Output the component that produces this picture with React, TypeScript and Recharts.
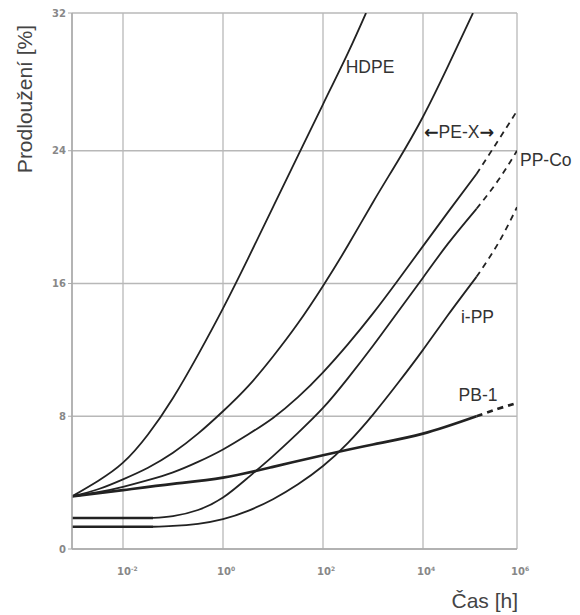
import React from 'react';
import { LineChart, Line, XAxis, YAxis, CartesianGrid, ReferenceDot, Label } from 'recharts';

// x values are log10(time in hours); y values are elongation in %
const X_MIN = -3.02;
const X_MAX = 5.88;
const Y_MAX = 32.3;
const xTicks = [-2, 0, 2, 4, 5.88];
const yTicks = [0, 8, 16, 24, 32.3];

const hdpeX = [-3.02, -2.5, -2, -1.5, -1, -0.5, 0, 0.5, 1, 1.5, 2, 2.5, 2.86];
const hdpeY = [3.17, 4.1, 5.2, 6.9, 9.1, 11.7, 14.5, 17.5, 20.6, 23.7, 26.8, 29.9, 32.3];

const pexAX = [-3.02, -2.5, -2, -1.5, -1, -0.5, 0, 0.5, 1, 1.5, 2, 2.5, 3, 3.5, 4, 4.5, 5.0];
const pexAY = [3.17, 3.6, 4.2, 4.9, 5.8, 6.95, 8.3, 9.8, 11.6, 13.6, 15.85, 18.3, 20.9, 23.4, 26.05, 29.1, 32.3];

const pexBX = [-3.02, -2.5, -2, -1.5, -1, -0.5, 0, 0.5, 1, 1.5, 2, 2.5, 3, 3.5, 4, 4.5, 5.07];
const pexBY = [3.17, 3.42, 3.75, 4.15, 4.62, 5.25, 6.0, 6.9, 7.9, 9.15, 10.65, 12.35, 14.2, 16.2, 18.25, 20.3, 22.6];
const pexBDashX = [5.07, 5.5, 5.88];
const pexBDashY = [22.6, 24.6, 26.4];

const ppcoFlatX = [-3.02, -1.4];
const ppcoFlatY = [1.87, 1.87];
const ppcoX = [-1.4, -1, -0.5, 0, 0.5, 1, 1.5, 2, 2.5, 3, 3.5, 4, 4.5, 5.07];
const ppcoY = [1.87, 1.98, 2.35, 3.1, 4.3, 5.6, 7.0, 8.5, 10.3, 12.25, 14.3, 16.35, 18.4, 20.5];
const ppcoDashX = [5.07, 5.5, 5.88];
const ppcoDashY = [20.5, 22.2, 24.0];

const ippFlatX = [-3.02, -1.4];
const ippFlatY = [1.34, 1.34];
const ippX = [-1.4, -1, -0.5, 0, 0.5, 1, 1.5, 2, 2.5, 3, 3.5, 4, 4.5, 5.07];
const ippY = [1.34, 1.39, 1.52, 1.8, 2.3, 3.0, 3.9, 5.0, 6.4, 8.1, 10.0, 12.0, 14.1, 16.4];
const ippDashX = [5.07, 5.5, 5.88];
const ippDashY = [16.4, 18.4, 20.6];

const pb1X = [-3.02, -2, -1, 0, 1, 2, 3, 4, 5.07];
const pb1Y = [3.17, 3.55, 3.92, 4.3, 4.95, 5.65, 6.3, 6.95, 8.0];
const pb1DashX = [5.07, 5.5, 5.88];
const pb1DashY = [8.0, 8.45, 8.8];

const seriesLabels = [
  { text: 'HDPE', x: 2.94, y: 29.05, anchor: 'middle' },
  { text: 'PE-X', x: 4.72, y: 25.15, anchor: 'middle', arrows: true },
  { text: 'PP-Co', x: 5.94, y: 23.44, anchor: 'start' },
  { text: 'i-PP', x: 5.09, y: 14.0, anchor: 'middle' },
  { text: 'PB-1', x: 5.1, y: 9.28, anchor: 'middle' },
];

const pts = (xs: number[], ys: number[]) => xs.map((x, i) => ({ x, y: ys[i] }));

const INK = '#222';
const GRID = '#b8b8b8';
const LABEL_FONT = '"Liberation Sans", Arial, sans-serif';

const XTick = (props: any) => {
  const { x, y, payload } = props;
  const exp = Math.round(payload.value);
  return (
    <text x={x - 6} y={y + 18} fontSize={10} fontWeight="bold" fill="#888" fontFamily='"DejaVu Sans", sans-serif'>
      <tspan>10</tspan>
      <tspan dy={-4} fontSize={6}>{exp}</tspan>
    </text>
  );
};

const SeriesLabel = (props: any) => {
  const { viewBox, text, anchor, arrows } = props;
  const cx = viewBox.x + viewBox.width / 2;
  const cy = viewBox.y + viewBox.height / 2;
  return (
    <text x={cx} y={cy} textAnchor={anchor} dominantBaseline="central" fontSize={17.5} fill="#333" fontFamily={LABEL_FONT}>
      {arrows ? (
        <>
          <tspan fontFamily='"DejaVu Sans", sans-serif' fontWeight="bold" fill="#222">{'\u2190'}</tspan>
          <tspan>{text}</tspan>
          <tspan fontFamily='"DejaVu Sans", sans-serif' fontWeight="bold" fill="#222">{'\u2192'}</tspan>
        </>
      ) : (
        text
      )}
    </text>
  );
};

export default function App() {
  const solid = (key: string, data: any[], width = 1.8) => (
    <Line key={key} data={data} dataKey="y" type="natural" stroke={INK} strokeWidth={width} dot={false} isAnimationActive={false} />
  );
  const dashed = (key: string, data: any[], width = 1.8) => (
    <Line key={key} data={data} dataKey="y" type="natural" stroke={INK} strokeWidth={width} strokeDasharray="6 5" dot={false} isAnimationActive={false} />
  );
  return (
    <LineChart width={564} height={605} margin={{ top: 5, right: 55, bottom: 34, left: 0 }}>
      <CartesianGrid stroke={GRID} strokeWidth={1.3} />
      <XAxis
        type="number"
        dataKey="x"
        domain={[X_MIN, X_MAX]}
        ticks={xTicks}
        allowDataOverflow
        tick={<XTick />}
        tickLine={false}
        axisLine={{ stroke: '#aaa', strokeWidth: 1.5 }}
        height={30}
      >
        <Label
          content={() => (
            <text x={510} y={592} textAnchor="end" dominantBaseline="central" fontSize={21} fill="#444" fontFamily={LABEL_FONT}>
              Čas [h]
            </text>
          )}
        />
      </XAxis>
      <YAxis
        type="number"
        domain={[0, Y_MAX]}
        ticks={yTicks}
        allowDataOverflow
        width={64}
        tickFormatter={(v: number) => String(Math.round(v))}
        tick={{ fontSize: 10, fontWeight: 'bold', fill: '#888', fontFamily: '"DejaVu Sans", sans-serif' }}
        tickSize={4}
        tickMargin={2}
        tickLine={{ stroke: '#aaa' }}
        axisLine={{ stroke: '#aaa', strokeWidth: 1.5 }}
      >
        <Label
          content={() => (
            <text transform="translate(16,91) rotate(-90)" x={0} y={0} textAnchor="middle" dominantBaseline="central" fontSize={21} fill="#444" fontFamily={LABEL_FONT}>
              Prodloužení [%]
            </text>
          )}
        />
      </YAxis>

      {solid('hdpe', pts(hdpeX, hdpeY))}
      {solid('pexA', pts(pexAX, pexAY))}
      {solid('pexB', pts(pexBX, pexBY))}
      {dashed('pexBd', pts(pexBDashX, pexBDashY))}
      {solid('ppcoF', pts(ppcoFlatX, ppcoFlatY), 2.6)}
      {solid('ppco', pts(ppcoX, ppcoY))}
      {dashed('ppcoD', pts(ppcoDashX, ppcoDashY))}
      {solid('ippF', pts(ippFlatX, ippFlatY), 2.6)}
      {solid('ipp', pts(ippX, ippY))}
      {dashed('ippD', pts(ippDashX, ippDashY))}
      {solid('pb1', pts(pb1X, pb1Y), 2.7)}
      {dashed('pb1D', pts(pb1DashX, pb1DashY), 2.7)}

      {seriesLabels.map((l) => (
        <ReferenceDot
          key={l.text}
          x={l.x}
          y={l.y}
          r={0}
          fill="none"
          stroke="none"
          ifOverflow="visible"
          label={<SeriesLabel text={l.text} anchor={l.anchor} arrows={l.arrows} />}
        />
      ))}
    </LineChart>
  );
}
